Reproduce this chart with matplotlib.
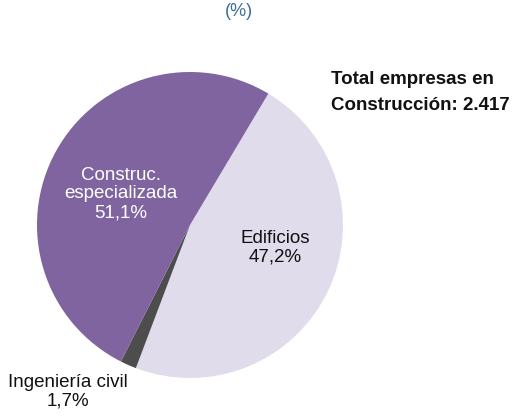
import matplotlib.pyplot as plt

labels = ["Edificios", "Ingeniería civil", "Construc.\nespecializada"]
shares = [47.2, 1.7, 51.1]
colors = ["#e1dcec", "#4d4d4d", "#7f64a0"]
pct_text = ["47,2%", "1,7%", "51,1%"]

W, H = 522, 417
fig = plt.figure(figsize=(W / 100, H / 100), dpi=100)
plt.rcParams['font.family'] = ['Liberation Sans', 'DejaVu Sans']

# pie centre at (190, 225) px, radius 153 px
cx, cy, r = 190, 225, 153
ax = fig.add_axes([(cx - r) / W, (H - cy - r) / H, 2 * r / W, 2 * r / H])
ax.pie(shares, colors=colors, startangle=59.2, counterclock=False,
       radius=1, wedgeprops=dict(linewidth=0))
ax.set_xlim(-1, 1)
ax.set_ylim(-1, 1)
ax.axis('off')


def px(x, y):
    return (x - cx) / r, (cy - y) / r


fs = 13.5
ax.text(*px(121, 194), labels[2] + "\n" + pct_text[2], color="white",
        ha="center", va="center", fontsize=fs, linespacing=1.15)
ax.text(*px(275, 248), labels[0] + "\n" + pct_text[0], color="#111111",
        ha="center", va="center", fontsize=fs, linespacing=1.15)
ax.text(*px(68, 392), labels[1] + "\n" + pct_text[1], color="#111111",
        ha="center", va="center", fontsize=fs, linespacing=1.15,
        clip_on=False)

fig.text(239 / W, 1 - 12 / H, "(%)", color="#3b6e99", fontsize=13,
         ha="center", va="center")
fig.text(331 / W, 1 - 79 / H, "Total empresas en", fontweight="bold",
         fontsize=13.5, ha="left", va="center", color="#111111")
fig.text(331 / W, 1 - 105 / H, "Construcción: 2.417", fontweight="bold",
         fontsize=13.5, ha="left", va="center", color="#111111")

fig.savefig("out.png", dpi=100)
